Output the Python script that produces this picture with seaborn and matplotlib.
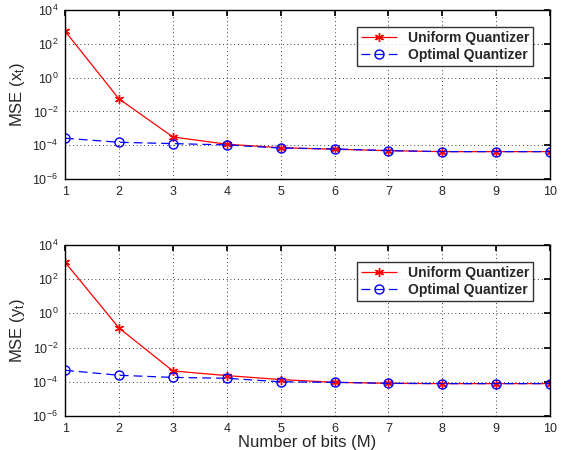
"""MSE of uniform vs optimal quantizer against number of bits."""

import matplotlib
matplotlib.use("Agg")
import matplotlib.pyplot as plt
import pandas as pd
import seaborn as sns

bits = [1, 2, 3, 4, 5, 6, 7, 8, 9, 10]

# top panel: MSE (x_t)
uniform_x = [550, 0.055, 3.1e-4, 1.15e-4, 7.2e-5, 5.8e-5, 4.8e-5, 4.2e-5, 4.2e-5, 4.2e-5]
optimal_x = [2.6e-4, 1.5e-4, 1.25e-4, 1.05e-4, 6.8e-5, 6.1e-5, 4.8e-5, 4.2e-5, 4.2e-5, 4.2e-5]

# bottom panel: MSE (y_t)
uniform_y = [980, 0.14, 4.3e-4, 2.3e-4, 1.35e-4, 9.3e-5, 8.1e-5, 7.8e-5, 7.8e-5, 7.8e-5]
optimal_y = [4.7e-4, 2.4e-4, 1.8e-4, 1.6e-4, 1.0e-4, 9.3e-5, 8.1e-5, 7.8e-5, 7.8e-5, 7.8e-5]

series_names = ["Uniform Quantizer", "Optimal Quantizer"]
yticks = [1e-6, 1e-4, 1e-2, 1e0, 1e2, 1e4]

sns.set_theme(style="white")
plt.rcParams["font.family"] = ["Liberation Sans", "DejaVu Sans"]
plt.rcParams["mathtext.fontset"] = "custom"
plt.rcParams["mathtext.rm"] = "Liberation Sans"
plt.rcParams["mathtext.it"] = "Liberation Sans"

# MATLAB-like asterisk and open circle
MARKER_STYLES = [((6, 2, 0), "red"), ("o", "none")]


def make_frame(uniform, optimal):
    return pd.DataFrame({
        "bits": bits * 2,
        "mse": uniform + optimal,
        "method": [series_names[0]] * len(bits) + [series_names[1]] * len(bits),
    })


def style_marker(line, marker, face):
    line.set_marker(marker)
    line.set_markerfacecolor(face)
    line.set_markeredgecolor(line.get_color())
    line.set_markeredgewidth(1.0)


def draw_panel(ax, uniform, optimal, ylabel, xlabel=None):
    df = make_frame(uniform, optimal)
    sns.lineplot(
        data=df, x="bits", y="mse", hue="method", style="method",
        palette=["red", "blue"], markers=["*", "o"], dashes=[(1, 0), (7, 4)],
        linewidth=0.9, markersize=6.5, ax=ax, legend=True,
    )
    for line, (marker, face) in zip(ax.get_lines()[:2], MARKER_STYLES):
        style_marker(line, marker, face)
    ax.set_yscale("log")
    ax.set_ylim(1e-6, 1e4)
    ax.set_xlim(1, 10)
    ax.set_xticks(bits)
    ax.set_yticks(yticks)
    ax.minorticks_off()
    ax.tick_params(direction="in", length=4, labelsize=9, top=True, right=True,
                   color="black", pad=5)
    ax.grid(True, linestyle=(0, (1, 3.5)), color="black", linewidth=0.6)
    for spine in ax.spines.values():
        spine.set_color("black")
        spine.set_linewidth(1.0)
    ax.set_ylabel(ylabel, fontsize=12)
    ax.set_xlabel(xlabel if xlabel else "", fontsize=12, labelpad=0)
    leg = ax.legend(loc="upper right", fontsize=10, frameon=True, fancybox=False,
                    edgecolor="black", handlelength=2.6, borderpad=0.3,
                    labelspacing=0.2, borderaxespad=1.2)
    leg.get_frame().set_linewidth(1.0)
    for handle, (marker, face) in zip(leg.legend_handles, MARKER_STYLES):
        style_marker(handle, marker, face)
    for text in leg.get_texts():
        text.set_fontweight("bold")


fig = plt.figure(figsize=(5.66, 4.5), dpi=100)
ax_top = fig.add_axes([0.115, 0.602, 0.857, 0.376])
ax_bot = fig.add_axes([0.115, 0.0756, 0.857, 0.38])

draw_panel(ax_top, uniform_x, optimal_x, "MSE (x$_t$)")
draw_panel(ax_bot, uniform_y, optimal_y, "MSE (y$_t$)", "Number of bits (M)")

fig.savefig("out.png", dpi=100)
